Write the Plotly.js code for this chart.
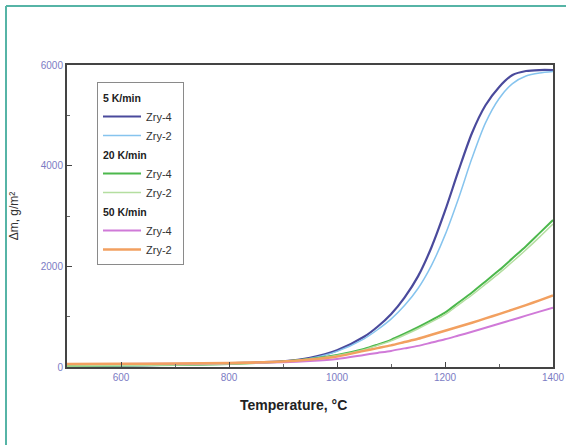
<!DOCTYPE html>
<html>
<head>
<meta charset="utf-8">
<script src="https://cdn.plot.ly/plotly-3.0.1.min.js"></script>
<style>
  html, body { margin: 0; padding: 0; background: #ffffff; }
  #chart { width: 566px; height: 445px; }
</style>
</head>
<body>
<div id="chart"></div>
<script>
// Temperature grid (°C)
const temperature = [500, 600, 700, 800, 900, 950, 1000, 1050, 1075, 1100, 1125, 1150, 1175, 1200, 1225, 1250, 1275, 1300, 1325, 1350, 1375, 1400];

// Mass gain Δm (g/m²)
const zry4_5K  = [20, 30, 45, 75, 110, 180, 330, 600, 800, 1050, 1380, 1800, 2380, 3100, 3900, 4650, 5200, 5560, 5800, 5880, 5900, 5900];
const zry2_5K  = [20, 30, 45, 70, 105, 170, 310, 560, 740, 950, 1220, 1560, 2020, 2620, 3350, 4150, 4850, 5330, 5630, 5780, 5840, 5870];
const zry4_20K = [20, 28, 40, 60, 110, 160, 240, 360, 445, 540, 660, 790, 930, 1080, 1280, 1480, 1700, 1920, 2160, 2400, 2660, 2920];
const zry2_20K = [20, 28, 39, 58, 105, 152, 228, 345, 430, 520, 635, 760, 895, 1040, 1235, 1430, 1645, 1860, 2090, 2330, 2580, 2840];
const zry4_50K = [60, 62, 66, 75, 95, 120, 160, 240, 280, 320, 370, 420, 485, 550, 625, 700, 780, 860, 940, 1020, 1100, 1180];
const zry2_50K = [60, 63, 68, 80, 110, 150, 210, 320, 375, 430, 495, 560, 640, 720, 800, 880, 965, 1050, 1140, 1230, 1325, 1420];

const groupTitles = ['5 K/min', '20 K/min', '50 K/min'];
const alloyNames = ['Zry-4', 'Zry-2'];

const xTickVals = [600, 800, 1000, 1200, 1400];
const yTickVals = [0, 2000, 4000, 6000];

const series = [
  {y: zry4_5K,  g: 0, n: 0, color: '#4a4a9c', w: 2.2},
  {y: zry2_5K,  g: 0, n: 1, color: '#86c4ee', w: 1.5},
  {y: zry4_20K, g: 1, n: 0, color: '#4cb84c', w: 2},
  {y: zry2_20K, g: 1, n: 1, color: '#b4dea0', w: 1.5},
  {y: zry4_50K, g: 2, n: 0, color: '#d07ad8', w: 2},
  {y: zry2_50K, g: 2, n: 1, color: '#f2a060', w: 2.5}
];

const NB = '\u00a0';
const traces = series.map(s => ({
  type: 'scatter',
  mode: 'lines',
  x: temperature,
  y: s.y,
  name: alloyNames[s.n] + NB.repeat(2),
  legendgroup: groupTitles[s.g],
  legendgrouptitle: {text: '<b>' + groupTitles[s.g] + '</b>', font: {size: 10.5, color: '#222'}},
  line: {color: s.color, width: s.w, shape: 'spline', smoothing: 0.8}
}));

const px = v => (v - 67) / 486;
const py = v => (367 - v) / 302;

const layout = {
  width: 566,
  height: 445,
  margin: {l: 67, r: 13, t: 65, b: 78},
  paper_bgcolor: '#ffffff',
  plot_bgcolor: '#ffffff',
  font: {family: 'Liberation Sans, Arial, sans-serif', color: '#222'},
  showlegend: true,
  legend: {
    x: px(97), y: py(82), xanchor: 'left', yanchor: 'top',
    bgcolor: '#ffffff', bordercolor: '#8a8a8a', borderwidth: 1,
    font: {size: 11, color: '#333'},
    tracegroupgap: 0,
    traceorder: 'grouped',
    itemwidth: 38
  },
  xaxis: {
    range: [500, 1400],
    tickvals: xTickVals,
    ticktext: xTickVals.map(String),
    ticks: 'inside', ticklen: 5, tickcolor: '#444',
    minor: {dtick: 100, tick0: 0, ticks: 'inside', ticklen: 3, tickcolor: '#666'},
    showgrid: false, zeroline: false,
    showline: true, linecolor: '#444', linewidth: 2, mirror: true,
    tickfont: {size: 10, color: '#7c7cc4'}
  },
  yaxis: {
    range: [0, 6000],
    tickvals: yTickVals,
    ticktext: yTickVals.map(String),
    ticks: 'inside', ticklen: 5, tickcolor: '#444',
    minor: {dtick: 1000, ticks: 'inside', ticklen: 3, tickcolor: '#666'},
    showgrid: false, zeroline: false,
    showline: true, linecolor: '#444', linewidth: 2, mirror: true,
    tickfont: {size: 10, color: '#7c7cc4'},
    title: {text: 'Δm, g/m²', font: {size: 12, color: '#333'}, standoff: 20}
  },
  annotations: [
    {text: '<b>Temperature, °C</b>', xref: 'paper', yref: 'paper', x: px(293), y: py(405),
     xanchor: 'center', yanchor: 'middle', showarrow: false, font: {size: 14, color: '#222'}}
  ],
  shapes: [
    {type: 'line', xref: 'paper', yref: 'paper', x0: px(6), x1: px(566), y0: py(6), y1: py(6),
     line: {color: '#56b4a6', width: 2}},
    {type: 'line', xref: 'paper', yref: 'paper', x0: px(6), x1: px(6), y0: py(6), y1: py(445),
     line: {color: '#56b4a6', width: 2}}
  ]
};

Plotly.newPlot('chart', traces, layout, {displayModeBar: false, staticPlot: true});
</script>
</body>
</html>
